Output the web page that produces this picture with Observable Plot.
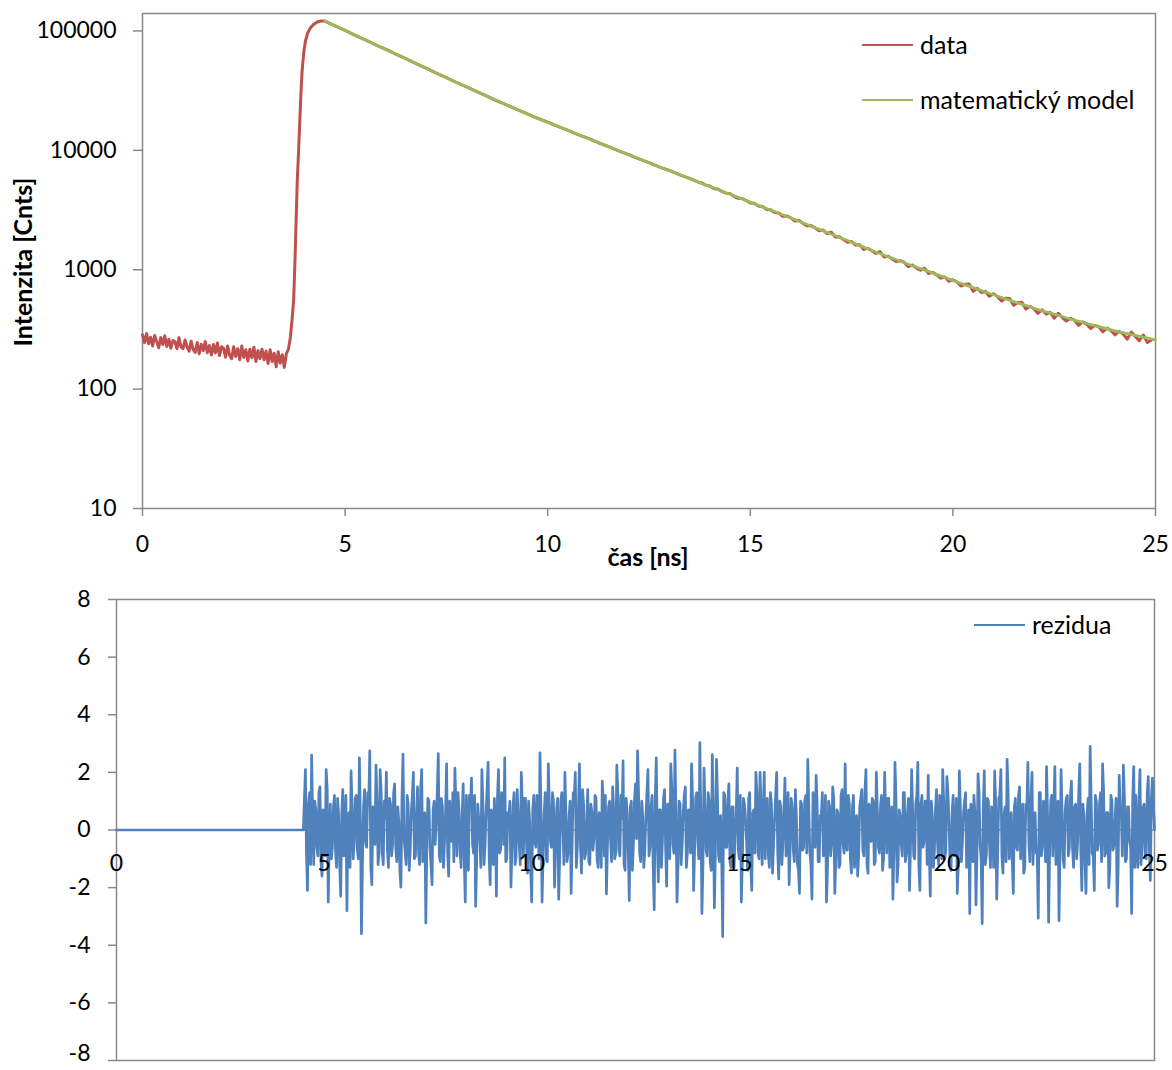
<!DOCTYPE html>
<html><head><meta charset="utf-8">
<script src="https://cdn.jsdelivr.net/npm/d3@7"></script>
<script src="https://cdn.jsdelivr.net/npm/@observablehq/plot@0.6"></script>
<style>
body{margin:0;background:#fff;font-family:Lato,sans-serif;}
#wrap{position:relative;width:1172px;height:1070px;overflow:hidden;}
#top,#bottom{position:absolute;left:0;}
#top{top:0}
#bottom{top:580px}
.leg{position:absolute;font:25px Lato,sans-serif;color:#000;line-height:28px;height:28px;white-space:nowrap;}
.sw{position:absolute;height:2.5px;width:51px;}
.title{position:absolute;font:bold 25px Lato,sans-serif;color:#000;white-space:nowrap;transform:translate(-50%,-50%);}
</style></head>
<body><div id="wrap"><div id="top"></div><div id="bottom"></div></div>
<script>
// ---------- data ----------
const xTicks = [0, 5, 10, 15, 20, 25];
const yTicksTop = [10, 100, 1000, 10000, 100000];
const yTicksBottom = [-8, -6, -4, -2, 0, 2, 4, 6, 8];
const seriesNames = ["data", "matematický model", "rezidua"];
const seriesColors = ["#C0504D", "#9BBB59", "#4F81BD"];

// measured counts before the pulse, 0 .. 3.55 ns every 0.05 ns
const preT0 = 0, preDt = 0.05;
const preCounts = [285,245,292,240,272,230,281,250,222,270,236,280,228,262,220,255,250,218,270,226,
218,258,226,208,252,214,203,246,198,238,210,250,202,232,193,236,201,243,191,226,
220,185,230,192,180,226,188,218,176,230,184,214,172,216,183,224,170,210,180,216,
176,208,164,214,170,200,154,206,165,194,152,198];

// rising edge
const riseTime = [3.60,3.65,3.69,3.73,3.76,3.79,3.82,3.85,3.88,3.91,3.94,3.98,4.02,4.08,4.15,4.23,4.31,4.40];
const riseCounts = [215,272,380,553,1100,2500,5600,9500,17000,30000,47000,66000,82000,97000,107000,114000,119000,121000];

// decay 4.5 .. 13.75 ns every 0.25 ns
const decayT0 = 4.5, decayDt = 0.25;
const decayCounts = [121000,110300,101200,91900,84300,76600,70300,63900,58600,53300,48900,44400,40700,37000,
33950,30980,28500,26000,23930,21880,20180,18560,17220,15850,14720,13550,12590,11580,10760,9910,
9200,8480,7890,7270,6780,6250,5830,5360];

// decay tail 13.8 .. 24.9 ns every 0.1 ns
const tailT0 = 13.8, tailDt = 0.1;
const tailCounts = [5340,5110,5020,4790,4730,4530,4380,4330,4120,3960,3950,3800,3620,3600,3410,3390,3200,3180,3020,2990,
2800,2820,2720,2560,2580,2450,2330,2350,2240,2120,2150,2010,2060,1880,1890,1790,1700,1720,1610,1620,
1480,1510,1440,1370,1420,1280,1300,1230,1170,1190,1150,1060,1095,1030,990,1030,930,950,905,850,
870,800,825,790,730,755,760,660,700,645,660,600,630,595,548,578,575,505,532,535,
468,495,470,430,462,425,440,392,432,398,372,392,378,342,366,350,322,342,334,302,
324,310,285,305,290,262,300,276,255,284,246,258];

// fitted model 4.5 .. 25 ns every 0.5 ns
const modelT0 = 4.5, modelDt = 0.5;
const modelCounts = [121000,100900,84100,70100,58500,48800,40600,33900,28400,23900,20100,17200,14700,12560,10740,
9180,7870,6760,5810,4990,4290,3680,3160,2710,2320,1990,1700,1450,1250,1080,940,813,708,617,541,476,424,
378,340,308,282,259];

// residuals, 4.55 .. 24.95 ns every 0.05 ns (zero outside the fitted range)
const residT0 = 4.55, residDt = 0.05;
const residValues = [
2.1,-2.1,1.3,2.6,-1.2,0.7,-0.9,1.5,-1.6,0.4,2.1,-2.5,0.9,-0.6,1.2,-1.3,0.5,-2.3,1.4,-0.4,
-2.8,0.6,2.05,-1.0,1.1,-0.7,2.5,-3.6,0.8,-0.4,1.3,2.75,-1.9,0.5,2.25,-1.2,2.1,-0.8,1.0,2.0,
-1.3,0.9,-0.5,1.6,-1.1,0.3,-1.98,2.63,-0.7,1.2,-1.4,0.6,2.0,-0.9,1.5,-1.2,2.1,0.4,-3.23,1.1,
-0.6,-1.9,1.0,0.2,2.65,-1.1,0.8,-0.4,2.3,-1.6,0.5,1.3,2.15,-0.9,0.7,-1.3,1.6,-2.5,0.3,1.2,
1.8,-0.8,-2.65,0.9,-0.3,2.1,-1.2,0.6,2.35,-1.9,0.4,1.1,-2.3,2.1,-0.7,1.0,2.5,-1.0,0.5,-1.98,
0.8,-1.2,1.4,-0.5,2.0,-0.9,1.1,-1.5,0.3,-2.5,1.2,-0.6,0.9,2.68,-2.5,0.6,-1.0,2.3,-0.4,1.3,
-1.98,0.7,-2.4,1.0,0.2,2.0,-1.1,0.5,-2.2,1.3,2.0,-0.6,2.3,-1.5,0.9,-0.8,1.4,-1.2,0.6,-0.3,
1.1,-1.3,0.5,1.7,-0.9,-2.22,0.8,-0.4,1.5,-1.0,2.25,-0.7,1.2,2.4,-1.4,0.6,-2.45,1.0,-0.5,1.6,
2.75,-0.8,1.0,-1.3,0.4,2.1,-0.6,1.2,-2.77,2.5,-1.8,0.7,-0.3,1.4,-1.95,0.9,2.3,-0.5,2.77,-2.5,
1.0,-1.2,0.6,1.5,-0.8,0.3,2.3,-2.1,1.1,-0.4,3.03,-2.9,2.15,-0.7,1.3,-1.1,2.62,-2.7,2.45,-0.9,
0.5,-3.7,1.2,-0.6,1.6,-1.3,0.8,-0.2,2.15,-1.0,-2.5,1.1,0.4,-1.4,1.3,-2.1,0.7,2.0,-0.8,2.0,
-1.2,2.0,0.6,-0.9,1.3,-1.5,0.4,2.0,-1.7,0.8,-0.5,1.8,0.3,-1.9,1.1,-0.7,1.4,-1.2,-2.2,0.9,
-0.6,1.2,2.45,-0.8,-2.4,0.9,1.9,-1.1,0.5,1.3,-0.4,-2.5,1.0,-0.9,1.5,-2.2,0.7,-1.3,1.2,-0.5,
2.3,-0.7,0.9,-1.5,1.2,-0.3,-1.6,0.8,1.4,-0.9,2.1,-1.5,0.6,1.1,-1.2,2.0,-0.6,0.8,-1.4,2.0,
-0.8,1.1,0.3,-2.4,2.35,-1.8,0.7,-0.5,1.3,-1.1,0.6,-2.1,2.1,-0.9,0.9,2.35,-2.1,1.2,-0.4,1.0,
1.9,-2.3,0.5,-0.7,1.4,-1.2,0.8,2.1,-1.0,1.85,0.3,-1.4,1.2,-0.6,-2.2,2.05,-1.1,0.6,1.3,-0.8,
-2.9,0.7,1.2,-2.6,1.95,-0.5,-3.25,2.05,-0.9,1.0,-1.3,0.6,2.05,-2.4,1.1,2.1,-1.5,0.8,2.45,-1.0,
0.6,-2.2,1.1,-0.7,1.5,-0.4,-1.5,0.9,2.35,-1.1,2.0,0.5,-0.8,-3.06,1.3,-0.6,0.9,2.2,-3.2,1.0,
-0.9,2.2,0.4,-3.15,2.1,-1.0,0.7,1.2,-0.6,1.7,-1.3,0.9,-0.4,2.3,-2.1,0.5,-2.2,1.1,2.9,-0.8,
-2.1,1.0,-0.5,1.3,2.3,-0.9,0.6,-2.0,1.2,-0.7,0.3,-2.65,1.9,0.6,2.25,-1.1,0.8,-0.4,-2.9,2.2,
1.2,-1.3,2.1,-0.6,0.9,-1.0,1.85,-1.75,1.8];
// residuals in between, 4.575 .. 24.925 ns every 0.05 ns
const residT0b = 4.575;
const residValuesB = [
-0.8,0.9,-1.2,0.4,1.0,-0.6,1.3,-1.1,0.7,-0.9,1.4,-0.3,-1.0,0.8,-0.7,1.1,-1.2,0.6,-0.9,1.2,
0.5,-1.3,0.7,-0.4,1.2,-1.0,0.3,-1.1,1.4,-0.6,0.9,-1.3,0.8,-0.5,1.0,-0.8,1.3,-1.2,0.4,-0.7,
1.1,-0.9,1.3,-0.6,0.8,-1.4,1.0,-0.3,-1.2,0.9,-0.7,1.2,-1.0,0.5,-0.8,1.4,-1.1,0.6,-0.4,1.0,
-1.2,0.7,-0.5,1.3,-0.9,1.1,-1.3,0.6,-0.8,1.0,-0.4,-1.1,0.9,1.3,-0.7,0.5,-1.0,1.2,-1.4,0.8,
-0.5,1.2,-1.0,0.4,-1.3,0.9,-0.6,1.4,-0.9,0.7,-1.2,0.3,1.1,-0.8,1.3,-0.5,-1.1,0.6,1.0,-0.7,
1.3,-0.9,0.6,-1.2,0.8,1.1,-0.5,1.0,-1.3,0.7,-0.4,1.2,-1.0,0.5,-0.8,1.3,-1.1,0.9,-0.6,1.0,
-0.7,1.1,-0.9,1.3,-1.2,0.5,-0.8,1.0,-0.4,1.2,-1.3,0.8,-0.6,1.4,-1.0,0.3,-1.1,0.9,-0.7,1.2,
-1.0,0.6,-1.3,0.9,1.2,-0.5,1.0,-1.1,0.7,-0.8,1.3,-0.9,0.4,-1.2,1.1,-0.6,0.8,-1.4,1.0,-0.3,
1.2,-1.1,0.5,-0.7,1.3,-0.9,0.8,-1.2,1.0,-0.4,0.7,-1.3,1.1,-0.6,0.9,-1.0,1.4,-0.8,0.6,-1.2,
0.9,-0.5,1.2,-1.3,0.7,-0.8,1.1,-0.6,1.3,-1.0,0.4,-1.2,0.8,-0.9,1.0,-1.4,0.6,-0.7,1.2,-1.1,
-0.9,1.3,-0.6,1.0,-1.1,0.8,-1.3,0.5,-0.7,1.2,-1.0,0.9,-0.4,1.1,-1.2,0.6,-0.8,1.3,-1.0,0.7,
0.6,-1.0,1.1,-1.3,0.9,-0.5,1.2,-0.8,1.0,-1.2,0.7,-0.9,1.3,-0.6,0.8,-1.1,0.5,-1.4,1.0,-0.7,
1.0,-0.8,0.7,-1.2,1.3,-0.6,0.9,-1.1,0.5,-0.9,1.2,-1.3,0.8,-0.5,1.1,-1.0,0.6,-1.2,1.4,-0.8,
-0.6,1.2,-1.0,0.8,-1.3,0.5,-0.9,1.1,-0.7,1.3,-1.2,0.9,-0.4,1.0,-1.1,0.7,-0.8,1.2,-1.0,0.6,
1.1,-1.3,0.8,-0.6,1.0,-1.2,0.5,-0.9,1.3,-0.8,1.1,-0.5,0.7,-1.0,1.2,-1.3,0.9,-0.6,1.0,-1.2,
-0.8,1.0,-1.3,0.7,-0.5,1.2,-1.0,0.9,-0.7,1.3,-1.1,0.6,-0.9,1.1,-1.2,0.8,-0.4,1.0,-1.3,0.7,
0.9,-1.1,0.6,-0.8,1.3,-1.0,0.7,-1.2,1.1,-0.5,0.8,-1.3,1.0,-0.7,1.2,-0.9,0.5,-1.1,1.3,-0.6,
-1.1,0.8,-0.6,1.2,-1.0,0.9,-1.3,0.7,-0.5,1.1,-1.2,0.6,-0.8,1.3,-0.9,1.0,-1.1,0.5,-0.7,1.2,
0.7,-1.2,1.0,-0.8,0.6,-1.3,1.1,-0.9,1.2,-0.6,0.8,-1.0,1.3,-0.7,0.9,-1.1,0.5,-1.2,1.0,-0.9,
1.2,-0.7,0.9,-1.1,1.3,-0.8,0.6,-1.2,1.0,-0.5,1.1,-1.3,0.7,-0.9,1.2,-1.0,0.8,-0.6,1.1,-1.3,
-0.7,1.0,-1.2,0.8,-0.9,1.3,-0.6,1.1];
const residStart = 4.5, residEnd = 25;

// ---------- tables ----------
const dataSeries = [
  ...preCounts.map((v, i) => ({t: preT0 + i * preDt, v})),
  ...riseCounts.map((v, i) => ({t: riseTime[i], v})),
  ...decayCounts.map((v, i) => ({t: decayT0 + i * decayDt, v})),
  ...tailCounts.map((v, i) => ({t: tailT0 + i * tailDt, v}))
];
const modelSeries = modelCounts.map((v, i) => ({t: modelT0 + i * modelDt, v}));
const residSeries = [
  {t: 0, r: 0}, {t: residStart, r: 0},
  ...residValues.map((r, i) => ({t: residT0 + i * residDt, r})),
  ...residValuesB.map((r, i) => ({t: residT0b + i * residDt, r})),
  {t: residEnd, r: 0}
].sort((a, b) => a.t - b.t);

const gray = "#898989";
const font = {fontFamily: "Lato, sans-serif", fontSize: "23px", color: "#000", background: "transparent", overflow: "visible"};

const topChart = Plot.plot({
  width: 1172, height: 580,
  marginLeft: 142, marginRight: 17, marginTop: 13, marginBottom: 72,
  style: font,
  x: {domain: [0, 25]},
  y: {type: "log", domain: [10, 140000]},
  marks: [
    Plot.frame({stroke: gray, strokeWidth: 1.5}),
    Plot.axisY({ticks: yTicksTop, tickSize: 9, tickPadding: 17, stroke: gray, strokeWidth: 1.5, fill: "#000", tickFormat: d => String(d), label: null}),
    Plot.axisX({ticks: xTicks, tickSize: 8, tickPadding: 19, stroke: gray, strokeWidth: 1.5, fill: "#000", tickFormat: d => String(d), label: null}),
    Plot.line(dataSeries, {x: "t", y: "v", stroke: seriesColors[0], strokeWidth: 3}),
    Plot.line(modelSeries, {x: "t", y: "v", stroke: seriesColors[1], strokeWidth: 2.8, curve: "monotone-x"})
  ]
});
document.getElementById("top").appendChild(topChart);

const bottomChart = Plot.plot({
  width: 1172, height: 490,
  marginLeft: 116, marginRight: 18, marginTop: 19, marginBottom: 10,
  style: font,
  x: {domain: [0, 25], axis: null},
  y: {domain: [-8, 8], axis: null},
  marks: [
    Plot.frame({stroke: gray, strokeWidth: 1.5}),
    Plot.axisY({ticks: yTicksBottom, tickSize: 8, tickPadding: 18, stroke: gray, strokeWidth: 1.5, fill: "#000", tickFormat: d => (d === -8 ? "" : String(d)), label: null}),
    Plot.axisY({ticks: yTicksBottom.filter(d => d === -8), tickSize: 0, tickPadding: 26, fill: "#000", tickFormat: d => String(d), label: null, dy: -7}),
    Plot.ruleY([0], {stroke: gray, strokeWidth: 1.5}),
    Plot.line(residSeries, {x: "t", y: "r", stroke: seriesColors[2], strokeWidth: 2.7}),
    Plot.text(xTicks, {x: d => d, y: 0, dy: 34, text: d => String(d), fill: "#000", fontSize: 23})
  ]
});
document.getElementById("bottom").appendChild(bottomChart);

// ---------- legends & titles ----------
const wrap = document.getElementById("wrap");
function legend(name, color, x, y) {
  const sw = document.createElement("div");
  sw.className = "sw"; sw.style.background = color;
  sw.style.left = x + "px"; sw.style.top = (y - 1.25) + "px";
  wrap.appendChild(sw);
  const tx = document.createElement("div");
  tx.className = "leg"; tx.textContent = name;
  tx.style.left = (x + 58) + "px"; tx.style.top = (y - 15) + "px";
  wrap.appendChild(tx);
}
legend(seriesNames[0], seriesColors[0], 862, 45);
legend(seriesNames[1], seriesColors[1], 862, 100);
legend(seriesNames[2], seriesColors[2], 974, 625);

function title(text, x, y, rot) {
  const d = document.createElement("div");
  d.className = "title"; d.textContent = text;
  d.style.left = x + "px"; d.style.top = y + "px";
  if (rot) d.style.transform = "translate(-50%,-50%) rotate(-90deg)";
  wrap.appendChild(d);
}
title("čas [ns]", 648, 556, false);
title("Intenzita [Cnts]", 22, 262, true);
</script>
</body></html>
